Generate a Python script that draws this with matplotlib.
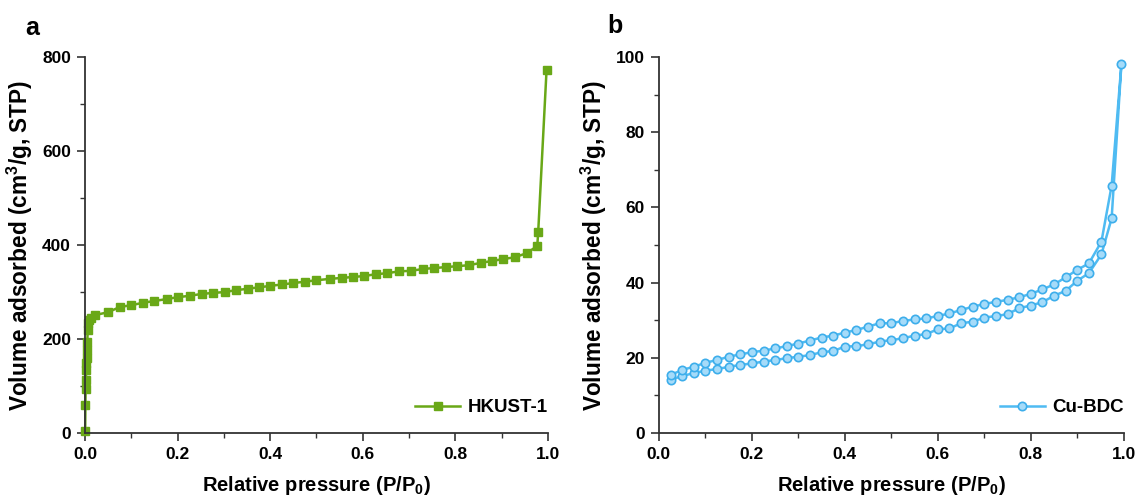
import matplotlib
matplotlib.use('Agg')
import matplotlib.pyplot as plt
from matplotlib.ticker import MultipleLocator

plt.rcParams['font.family'] = ['Liberation Sans', 'DejaVu Sans']
plt.rcParams['font.weight'] = 'bold'
plt.rcParams['mathtext.fontset'] = 'custom'
plt.rcParams['mathtext.rm'] = 'Liberation Sans:bold'
plt.rcParams['mathtext.bf'] = 'Liberation Sans:bold'
plt.rcParams['mathtext.default'] = 'bf'

# HKUST-1 isotherm
hk_p = [0.0005, 0.001, 0.0015, 0.002, 0.0025, 0.003, 0.0035, 0.004, 0.005, 0.006, 0.007, 0.009, 0.012,
        0.022, 0.05, 0.075, 0.1, 0.125, 0.15, 0.177, 0.2, 0.227, 0.252, 0.277, 0.302, 0.327, 0.352, 0.376,
        0.4, 0.425, 0.45, 0.475, 0.5, 0.529, 0.555, 0.579, 0.603, 0.629, 0.653, 0.678, 0.704, 0.73, 0.754,
        0.78, 0.804, 0.829, 0.855, 0.879, 0.903, 0.929, 0.955, 0.977, 0.979, 0.997]
hk_v = [5, 60, 94, 113, 134, 149, 160, 177, 194, 219, 234, 240, 245,
        251, 257, 268, 272, 277, 281, 285, 289, 292, 296, 298, 300, 304, 307, 310,
        313, 316, 319, 322, 325, 328, 330, 332, 334, 338, 340, 344, 345, 349, 351,
        353, 355, 357, 362, 366, 370, 374, 383, 398, 428, 772]

# Cu-BDC isotherm (adsorption then desorption)
cu_p = [0.025 * i for i in range(1, 38)] + [0.952, 0.974, 0.995]
cu_ads = [14.1, 15.2, 15.9, 16.6, 17.0, 17.6, 18.1, 18.5, 19.0, 19.4, 19.9, 20.3, 20.7, 21.5, 21.8,
          23.0, 23.1, 23.6, 24.3, 24.7, 25.2, 25.9, 26.3, 27.6, 27.8, 29.2, 29.6, 30.7, 31.1, 31.6,
          33.2, 33.9, 34.8, 36.5, 37.8, 40.5, 42.5, 47.5, 57.1, 98.1]
cu_des = [15.4, 16.8, 17.6, 18.7, 19.4, 20.3, 20.9, 21.5, 21.9, 22.5, 23.1, 23.8, 24.6, 25.4, 25.9,
          26.7, 27.4, 28.3, 29.2, 29.2, 29.8, 30.2, 30.5, 31.1, 31.8, 32.7, 33.6, 34.3, 34.9, 35.4,
          36.1, 37.0, 38.2, 39.5, 41.4, 43.4, 45.1, 50.9, 65.8, 98.1]

green = '#69A817'
blue = '#4FBBF2'

fig = plt.figure(figsize=(11.42, 5.01), dpi=100)
ax1 = fig.add_axes([0.0744, 0.1357, 0.4054, 0.7505])
ax2 = fig.add_axes([0.577, 0.1357, 0.407, 0.7505])

ax1.plot(hk_p, hk_v, color=green, lw=1.8, marker='s', ms=6, mec=green, mfc=green,
         clip_on=False, label='HKUST-1')

cu_x = cu_p + cu_p[::-1][1:]
cu_y = cu_ads + cu_des[::-1][1:]
ax2.plot(cu_x, cu_y, color=blue, lw=1.8, marker='o', ms=6, mec='#3DAEEB', mfc='#A5DBF9',
         mew=1.2, clip_on=False, label='Cu-BDC')

for ax, ymax, ymaj, ymin in [(ax1, 800, 200, 100), (ax2, 100, 20, 10)]:
    ax.set_xlim(0, 1.0)
    ax.set_ylim(0, ymax)
    ax.xaxis.set_major_locator(MultipleLocator(0.2))
    ax.xaxis.set_minor_locator(MultipleLocator(0.1))
    ax.yaxis.set_major_locator(MultipleLocator(ymaj))
    ax.yaxis.set_minor_locator(MultipleLocator(ymin))
    ax.xaxis.set_major_formatter(matplotlib.ticker.FormatStrFormatter('%.1f'))
    for s in ['top', 'right']:
        ax.spines[s].set_visible(False)
    for s in ['left', 'bottom']:
        ax.spines[s].set_color('#333333')
        ax.spines[s].set_linewidth(1.3)
    ax.tick_params(which='major', direction='out', length=6, width=1.2, color='#333333',
                   labelsize=12.5, pad=4)
    ax.tick_params(which='minor', direction='out', length=3.5, width=1.0, color='#333333')
    ax.set_xlabel('Relative pressure (P/P$_0$)', fontsize=14.5, fontweight='bold', labelpad=9)
    ax.set_ylabel('Volume adsorbed (cm$^3$/g, STP)', fontsize=16.3, fontweight='bold', labelpad=5)
    ax.legend(loc='lower right', bbox_to_anchor=(1.0, 0.045), frameon=False, handlelength=2.4,
              borderaxespad=0, borderpad=0, handletextpad=0.4,
              prop={'weight': 'bold', 'size': 13.5})

fig.text(0.022, 0.93, 'a', fontsize=18, fontweight='bold')
fig.text(0.532, 0.935, 'b', fontsize=18, fontweight='bold')

fig.savefig('out.png', dpi=100)
